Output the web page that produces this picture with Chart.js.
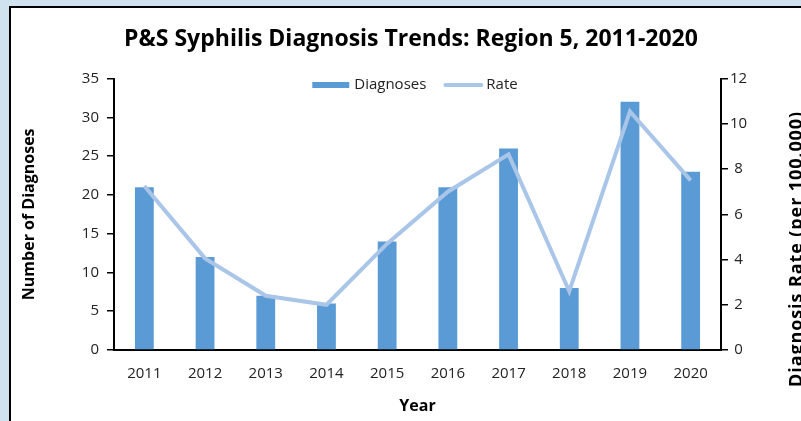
<!DOCTYPE html>
<html>
<head>
<meta charset="utf-8">
<script src="https://cdn.jsdelivr.net/npm/chart.js@4.4.1/dist/chart.umd.min.js"></script>
<style>
  html, body { margin: 0; padding: 0; }
  body { width: 801px; height: 421px; overflow: hidden; background: #cfe2ee; position: relative; }
  #panel {
    position: absolute; left: 9px; top: 6px; width: 830px; height: 440px;
    background: #fff; border-left: 2px solid #000; border-top: 2px solid #000;
  }
  #chart { position: absolute; left: 0; top: 0; }
</style>
</head>
<body>
<div id="panel"><canvas id="chart" width="800" height="413"></canvas></div>
<script>
const years = ['2011', '2012', '2013', '2014', '2015', '2016', '2017', '2018', '2019', '2020'];
const diagnoses = [21, 12, 7, 6, 14, 21, 26, 8, 32, 23];
const rates = [7.25, 4.05, 2.4, 2.0, 4.7, 7.0, 8.65, 2.6, 10.55, 7.5];

const FONT = '"Open Sans", Lato, sans-serif';
const BAR_COLOR = '#5b9bd5';
const LINE_COLOR = '#a9c5e8';

// legend sits inside the top of the plot area in the original
const innerLegend = {
  id: 'innerLegend',
  afterDraw(chart) {
    const ctx = chart.ctx;
    const sets = chart.data.datasets;
    ctx.save();
    ctx.font = '15px ' + FONT;
    ctx.textBaseline = 'middle';
    const w0 = ctx.measureText(sets[0].label).width;
    const w1 = ctx.measureText(sets[1].label).width;
    const total = 37 + 5 + w0 + 17 + 40 + 3 + w1;
    let x = 404 - total / 2;
    const y = 77;
    ctx.fillStyle = sets[0].backgroundColor;
    ctx.fillRect(x, y - 3, 37, 6);
    x += 37 + 5;
    ctx.fillStyle = '#222';
    ctx.fillText(sets[0].label, x, y);
    x += w0 + 17;
    ctx.strokeStyle = sets[1].borderColor;
    ctx.lineWidth = 4;
    ctx.lineCap = 'round';
    ctx.beginPath();
    ctx.moveTo(x + 2, y);
    ctx.lineTo(x + 38, y);
    ctx.stroke();
    x += 40 + 3;
    ctx.fillText(sets[1].label, x, y);
    ctx.restore();
  }
};

// right axis title reads bottom-to-top in the original and runs off the edge
const rightTitle = {
  id: 'rightTitle',
  afterDraw(chart) {
    const ctx = chart.ctx;
    ctx.save();
    ctx.translate(791, 241);
    ctx.rotate(-Math.PI / 2);
    ctx.font = 'bold 18px ' + FONT;
    ctx.letterSpacing = '0.9px';
    ctx.fillStyle = '#000';
    ctx.textAlign = 'center';
    ctx.textBaseline = 'alphabetic';
    ctx.fillText('Diagnosis Rate (per 100,000)', 0, 0);
    ctx.restore();
  }
};

new Chart(document.getElementById('chart'), {
  data: {
    labels: years,
    datasets: [
      {
        type: 'bar',
        label: 'Diagnoses',
        data: diagnoses,
        backgroundColor: BAR_COLOR,
        categoryPercentage: 1,
        barPercentage: 0.31,
        yAxisID: 'y',
        order: 1
      },
      {
        type: 'line',
        label: 'Rate',
        data: rates,
        borderColor: LINE_COLOR,
        backgroundColor: LINE_COLOR,
        borderWidth: 4,
        pointRadius: 0,
        tension: 0,
        yAxisID: 'yRate',
        order: 0
      }
    ]
  },
  options: {
    responsive: false,
    animation: false,
    devicePixelRatio: 1,
    layout: { padding: 0 },
    plugins: {
      title: {
        display: true,
        text: 'P&S Syphilis Diagnosis Trends: Region 5, 2011-2020',
        color: '#000',
        font: { family: FONT, size: 23, weight: 'bold' },
        padding: { top: 18, bottom: 25 }
      },
      legend: { display: false },
      tooltip: { enabled: false }
    },
    scales: {
      x: {
        grid: { display: false },
        border: { display: true, color: '#000', width: 2 },
        ticks: { color: '#222', font: { family: FONT, size: 15 }, padding: 7 },
        title: {
          display: true,
          text: 'Year',
          color: '#000',
          font: { family: FONT, size: 16, weight: 'bold' },
          padding: { top: 0, bottom: 5 }
        },
        afterFit(scale) { scale.height = 71; }
      },
      y: {
        position: 'left',
        min: 0,
        max: 35,
        grid: { display: true, drawOnChartArea: false, drawTicks: true, tickLength: 7, color: '#000', lineWidth: 1.5 },
        border: { display: true, color: '#000', width: 2 },
        ticks: { stepSize: 5, color: '#222', font: { family: FONT, size: 15 }, padding: 8 },
        title: {
          display: true,
          text: 'Number of Diagnoses',
          color: '#000',
          font: { family: FONT, size: 16, weight: 'bold' },
          padding: { top: 9, bottom: 0 }
        },
        afterFit(scale) { scale.width = 103; }
      },
      yRate: {
        position: 'right',
        min: 0,
        max: 12,
        grid: { display: true, drawOnChartArea: false, drawTicks: true, tickLength: 7, color: '#000', lineWidth: 1.5 },
        border: { display: true, color: '#000', width: 2 },
        ticks: { stepSize: 2, color: '#222', font: { family: FONT, size: 15 }, padding: 2, crossAlign: 'center' },
        afterFit(scale) { scale.width = 90; }
      }
    }
  },
  plugins: [innerLegend, rightTitle]
});
</script>
</body>
</html>
